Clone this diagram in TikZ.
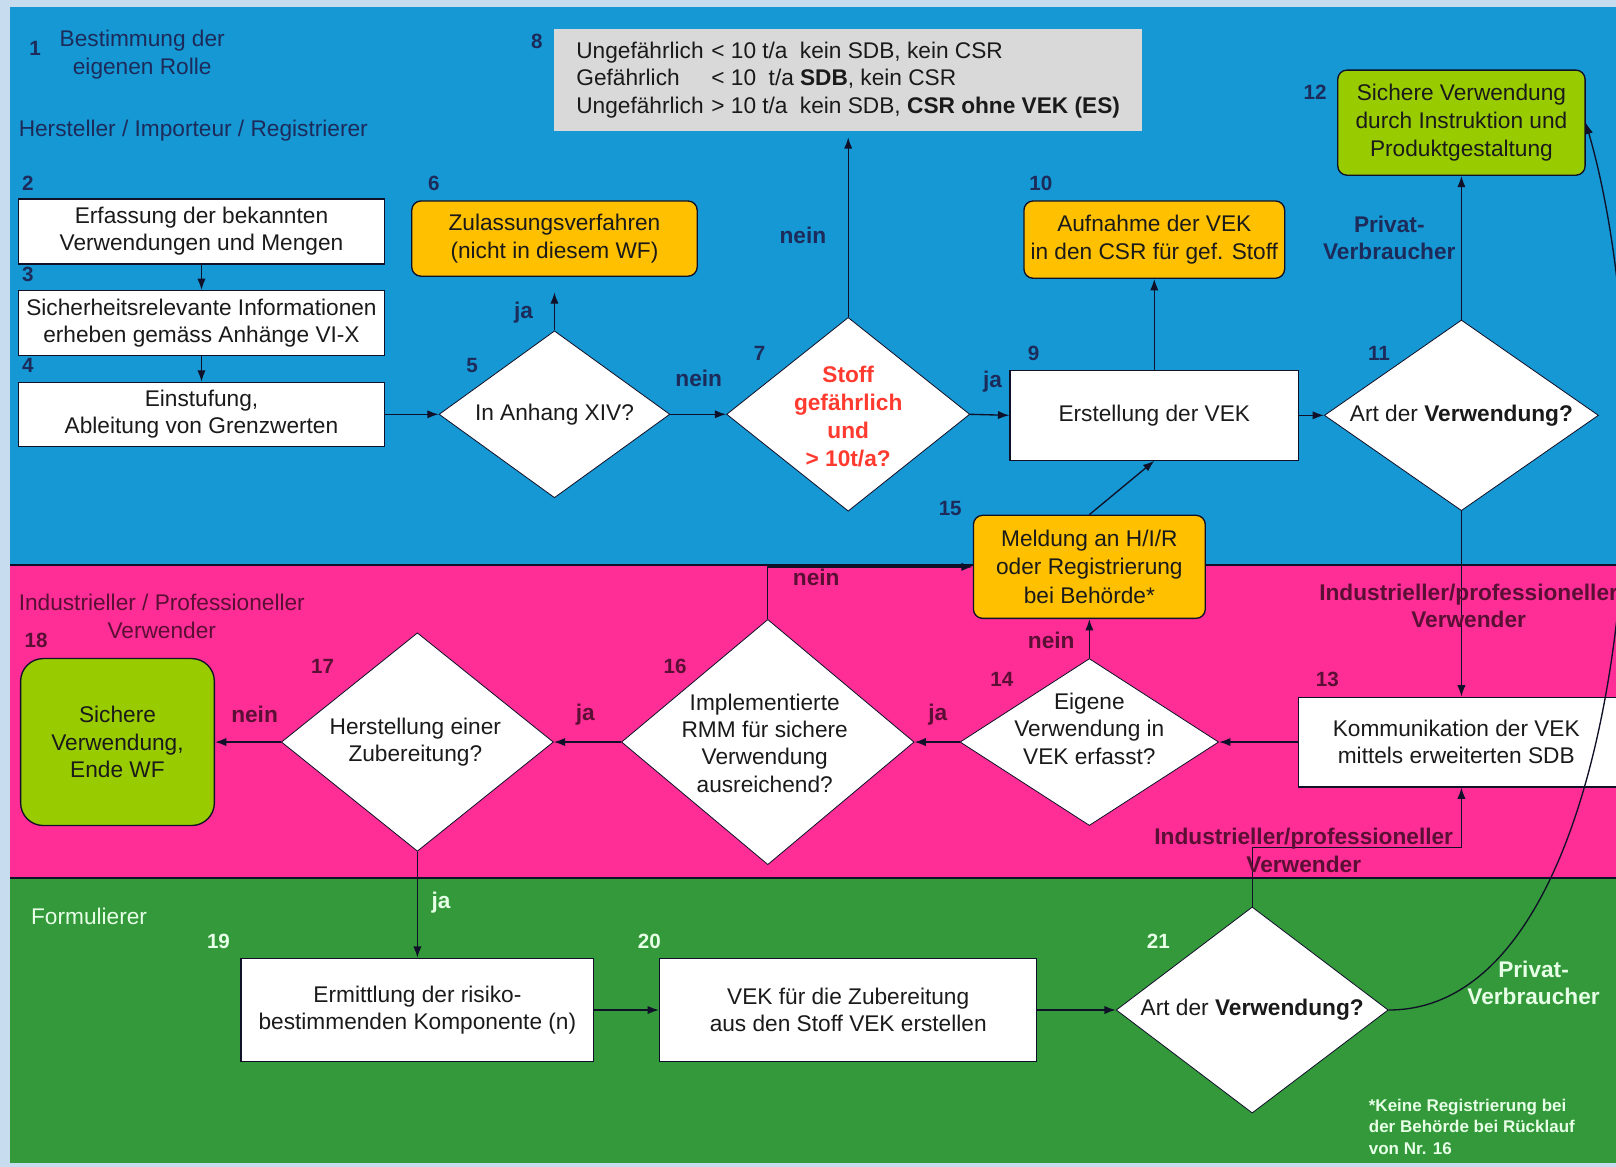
\documentclass[tikz,border=0pt]{standalone}
\usepackage{fontspec}
\setmainfont{Liberation Sans}
\usetikzlibrary{shapes.geometric,arrows.meta}
\definecolor{bord}{HTML}{C8DCF0}
\definecolor{blueb}{HTML}{1598D3}
\definecolor{pinkb}{HTML}{FF2D96}
\definecolor{greenb}{HTML}{33993A}
\definecolor{orangef}{HTML}{FFC000}
\definecolor{limef}{HTML}{99CC00}
\definecolor{grayf}{HTML}{D9D9D9}
\definecolor{navy}{HTML}{1C2B5A}
\definecolor{maroon}{HTML}{5A0F35}
\definecolor{lightg}{HTML}{E6FFE6}
\definecolor{linec}{HTML}{101028}
\definecolor{txt}{HTML}{1A1A1A}
\definecolor{redt}{HTML}{FF3B30}
\newcommand{\mfs}{\fontsize{22}{26.5}\selectfont}
\newcommand{\nfs}{\fontsize{20}{24}\selectfont\bfseries}
\begin{document}
\begin{tikzpicture}[x=1pt,y=-1pt,
  box/.style={rectangle, draw=linec, line width=1.3pt, fill=white, inner sep=2pt, align=center, font=\mfs, text=txt},
  rbox/.style={box, rounded corners=9pt},
  dia/.style={diamond, draw=linec, line width=0.8pt, fill=white, inner sep=0pt},
  dtext/.style={align=center, inner sep=0pt, font=\mfs, text=txt},
  arr/.style={draw=linec, line width=1.3pt, -{Latex[length=11pt,width=8pt]}},
  numB/.style={font=\nfs, text=navy, inner sep=0pt},
  numP/.style={font=\nfs, text=maroon, inner sep=0pt},
  numG/.style={font=\nfs, text=lightg, inner sep=0pt},
  lblB/.style={font=\mfs\bfseries, text=navy, inner sep=0pt, align=center},
  lblP/.style={font=\mfs\bfseries, text=maroon, inner sep=0pt, align=center},
  lblG/.style={font=\mfs\bfseries, text=lightg, inner sep=0pt, align=center}]
\useasboundingbox (0,0) rectangle (1568,1132);
\clip (0,0) rectangle (1568,1132);
% background bands
\fill[bord] (0,0) rectangle (1568,1132);
\fill[blueb] (10,7) rectangle (1568,548);
\fill[pinkb] (10,548) rectangle (1568,852);
\fill[greenb] (10,852) rectangle (1568,1128);
\draw[linec, line width=1.6pt] (10,548) -- (1568,548);
\draw[linec, line width=1.6pt] (10,852) -- (1568,852);

% lane titles
\node[font=\mfs, text=navy, align=center, inner sep=0pt] (t1) at (138,53) {Bestimmung der\\eigenen Rolle};
\node[font=\mfs, text=navy, anchor=west, inner sep=0pt] (tHIR) at (18,127) {Hersteller / Importeur / Registrierer};
\node[font=\mfs, text=maroon, anchor=west, align=center, inner sep=0pt] (tIPV) at (18,598) {Industrieller / Professioneller\\Verwender};
\node[font=\mfs, text=lightg, anchor=west, inner sep=0pt] (tForm) at (30,889) {Formulierer};

% nodes
\node[box, minimum width=355, minimum height=63] (b2) at (195.5,224.5) {Erfassung der bekannten\\Verwendungen und Mengen};
\node[box, minimum width=355, minimum height=63] (b3) at (195.5,313.5) {Sicherheitsrelevante Informationen\\erheben gemäss Anhänge VI-X};
\node[box, minimum width=355, minimum height=62] (b4) at (195.5,402) {Einstufung,\\Ableitung von Grenzwerten};
\node[dia, minimum width=224, minimum height=162] (d5) at (538,402) {};
\node[dtext] (d5t) at (d5.center) {In Anhang XIV?};
\node[rbox, fill=orangef, minimum width=277, minimum height=73] (b6) at (538,231.5) {Zulassungsverfahren\\(nicht in diesem WF)};
\node[dia, minimum width=236, minimum height=188] (d7) at (823,402) {};
\node[dtext, font=\fontsize{22}{27}\selectfont\bfseries, text=redt] (d7t) at (823,404) {Stoff\\gefährlich\\und\\> 10t/a?};
\node[rectangle, fill=grayf, minimum width=571, minimum height=99, inner sep=0pt, align=left, font=\mfs, text=txt] (b8) at (823,77.5)
 {\makebox[131pt][l]{Ungefährlich}\makebox[86pt][l]{< 10 t/a}kein SDB, kein CSR\\
  \makebox[131pt][l]{Gefährlich}\makebox[86pt][l]{< 10\ \ t/a}\textbf{SDB}, kein CSR\\
  \makebox[131pt][l]{Ungefährlich}\makebox[86pt][l]{> 10 t/a}kein SDB, \textbf{CSR ohne VEK (ES)}};
\node[box, minimum width=280, minimum height=87] (b9) at (1120,403) {Erstellung der VEK};
\node[rbox, fill=orangef, minimum width=253, minimum height=75] (b10) at (1120,232.5) {Aufnahme der VEK\\in den CSR für gef. Stoff};
\node[dia, minimum width=266, minimum height=185] (d11) at (1418,403) {};
\node[dtext] (d11t) at (d11.center) {Art der \textbf{Verwendung?}};
\node[rbox, fill=limef, minimum width=240, minimum height=102, font=\fontsize{22}{27}\selectfont] (b12) at (1418,119) {Sichere Verwendung\\durch Instruktion und\\Produktgestaltung};
\node[box, minimum width=312, minimum height=87] (b13) at (1416,720) {\hspace*{-6pt}Kommunikation der VEK\\\hspace*{-6pt}mittels erweiterten SDB};
\node[dia, minimum width=251, minimum height=162] (d14) at (1057,720) {};
\node[dtext] (d14t) at (1057,707) {Eigene\\Verwendung in\\VEK erfasst?};
\node[rbox, fill=orangef, minimum width=225, minimum height=100, font=\fontsize{22}{27.5}\selectfont] (b15) at (1057,550) {Meldung an H/I/R\\oder Registrierung\\bei Behörde*};
\node[dia, minimum width=284, minimum height=238] (d16) at (745,720) {};
\node[dtext] (d16t) at (742,721) {Implementierte\\RMM für sichere\\Verwendung\\ausreichend?};
\node[dia, minimum width=264, minimum height=212] (d17) at (405,720) {};
\node[dtext] (d17t) at (403,720) {Herstellung einer\\Zubereitung?};
\node[box, rounded corners=22pt, fill=limef, minimum width=188, minimum height=162] (b18) at (114,720) {Sichere\\Verwendung,\\Ende WF};
\node[box, minimum width=342, minimum height=100] (b19) at (405,980) {Ermittlung der risiko-\\bestimmenden Komponente (n)};
\node[box, minimum width=366, minimum height=100] (b20) at (823,980) {VEK für die Zubereitung\\aus den Stoff VEK erstellen};
\node[dia, minimum width=264, minimum height=200] (d21) at (1215,980) {};
\node[dtext] (d21t) at (d21.center) {Art der \textbf{Verwendung?}};

% connectors
\draw[arr] (b2.south) -- (b3.north);
\draw[arr] (b3.south) -- (b4.north);
\draw[arr] (b4.east) -- (d5.west);
\draw[arr, shorten >=15pt] (d5.north) -- (b6.south);
\draw[arr] (d5.east) -- (d7.west);
\draw[arr, shorten >=6pt] (d7.north) -- (b8.south);
\draw[arr] (d7.east) -- (b9.west);
\draw[arr] (b9.north) -- (b10.south);
\draw[arr] (b9.east) -- (d11.west);
\draw[arr] (d11.north) -- (b12.south);
\draw[arr] (d11.south) -- (d11.south |- b13.north);
\draw[arr] (b13.west) -- (d14.east);
\draw[arr] (d14.north) -- (b15.south);
\draw[arr] (b15.north) -- (b9.south);
\draw[arr] (d14.west) -- (d16.east);
\draw[arr] (d16.north) |- (b15.west);
\draw[arr] (d16.west) -- (d17.east);
\draw[arr] (d17.west) -- (b18.east);
\draw[arr] (d17.south) -- (b19.north);
\draw[arr] (b19.east) -- (b20.west);
\draw[arr] (b20.east) -- (d21.west);
\coordinate (k1) at (1418,822);
\draw[arr] (d21.north) |- (k1) -- (k1 |- b13.south);
\draw[arr] (d21.east) .. controls (1580,980) and (1620,400) .. (b12.east);

% numbers
\node[numB] (n1) at (34,47) {1};
\node[numB] (n2) at (27,178) {2};
\node[numB] (n3) at (27,266) {3};
\node[numB] (n4) at (27,355) {4};
\node[numB] (n5) at (458,355) {5};
\node[numB] (n6) at (421,178) {6};
\node[numB] (n7) at (737,343) {7};
\node[numB] (n8) at (521,40) {8};
\node[numB] (n9) at (1003,343) {9};
\node[numB] (n10) at (1010,178) {10};
\node[numB] (n11) at (1338,343) {11};
\node[numB] (n12) at (1276,90) {12};
\node[numB] (n15) at (922,493) {15};
\node[numP] (n13) at (1288,659) {13};
\node[numP] (n14) at (972,659) {14};
\node[numP] (n16) at (655,647) {16};
\node[numP] (n17) at (313,647) {17};
\node[numP] (n18) at (35,621) {18};
\node[numG] (n19) at (212,913) {19};
\node[numG] (n20) at (630,913) {20};
\node[numG] (n21) at (1124,913) {21};

% connector labels
\node[lblB] (lja5) at (508,303) {ja};
\node[lblB] (lnein5) at (678,367) {nein};
\node[lblB] (lnein7) at (779,228) {nein};
\node[lblB] (lja7) at (963,370) {ja};
\node[lblB] (lpriv) at (1348,231) {Privat-\\Verbraucher};
\node[lblP] (lnein16) at (792,560) {nein};
\node[lblP] (lnein14) at (1020,621) {nein};
\node[lblP] (lja14) at (910,693) {ja};
\node[lblP] (lja16) at (568,693) {ja};
\node[lblP] (lnein17) at (247,693) {nein};
\node[lblP] (lind1) at (1425,588) {Industrieller/professioneller\\Verwender};
\node[lblP] (lind2) at (1265,825) {Industrieller/professioneller\\Verwender};
\node[lblG] (lja17) at (428,876) {ja};
\node[lblG] (lpriv2) at (1488,954) {Privat-\\Verbraucher};
\node[font=\fontsize{16.5}{21}\selectfont\bfseries, text=lightg, anchor=north west, align=left, inner sep=0pt] (lfoot) at (1328,1066) {*Keine Registrierung bei\\der Behörde bei Rücklauf\\von Nr. 16};
\end{tikzpicture}
\end{document}
